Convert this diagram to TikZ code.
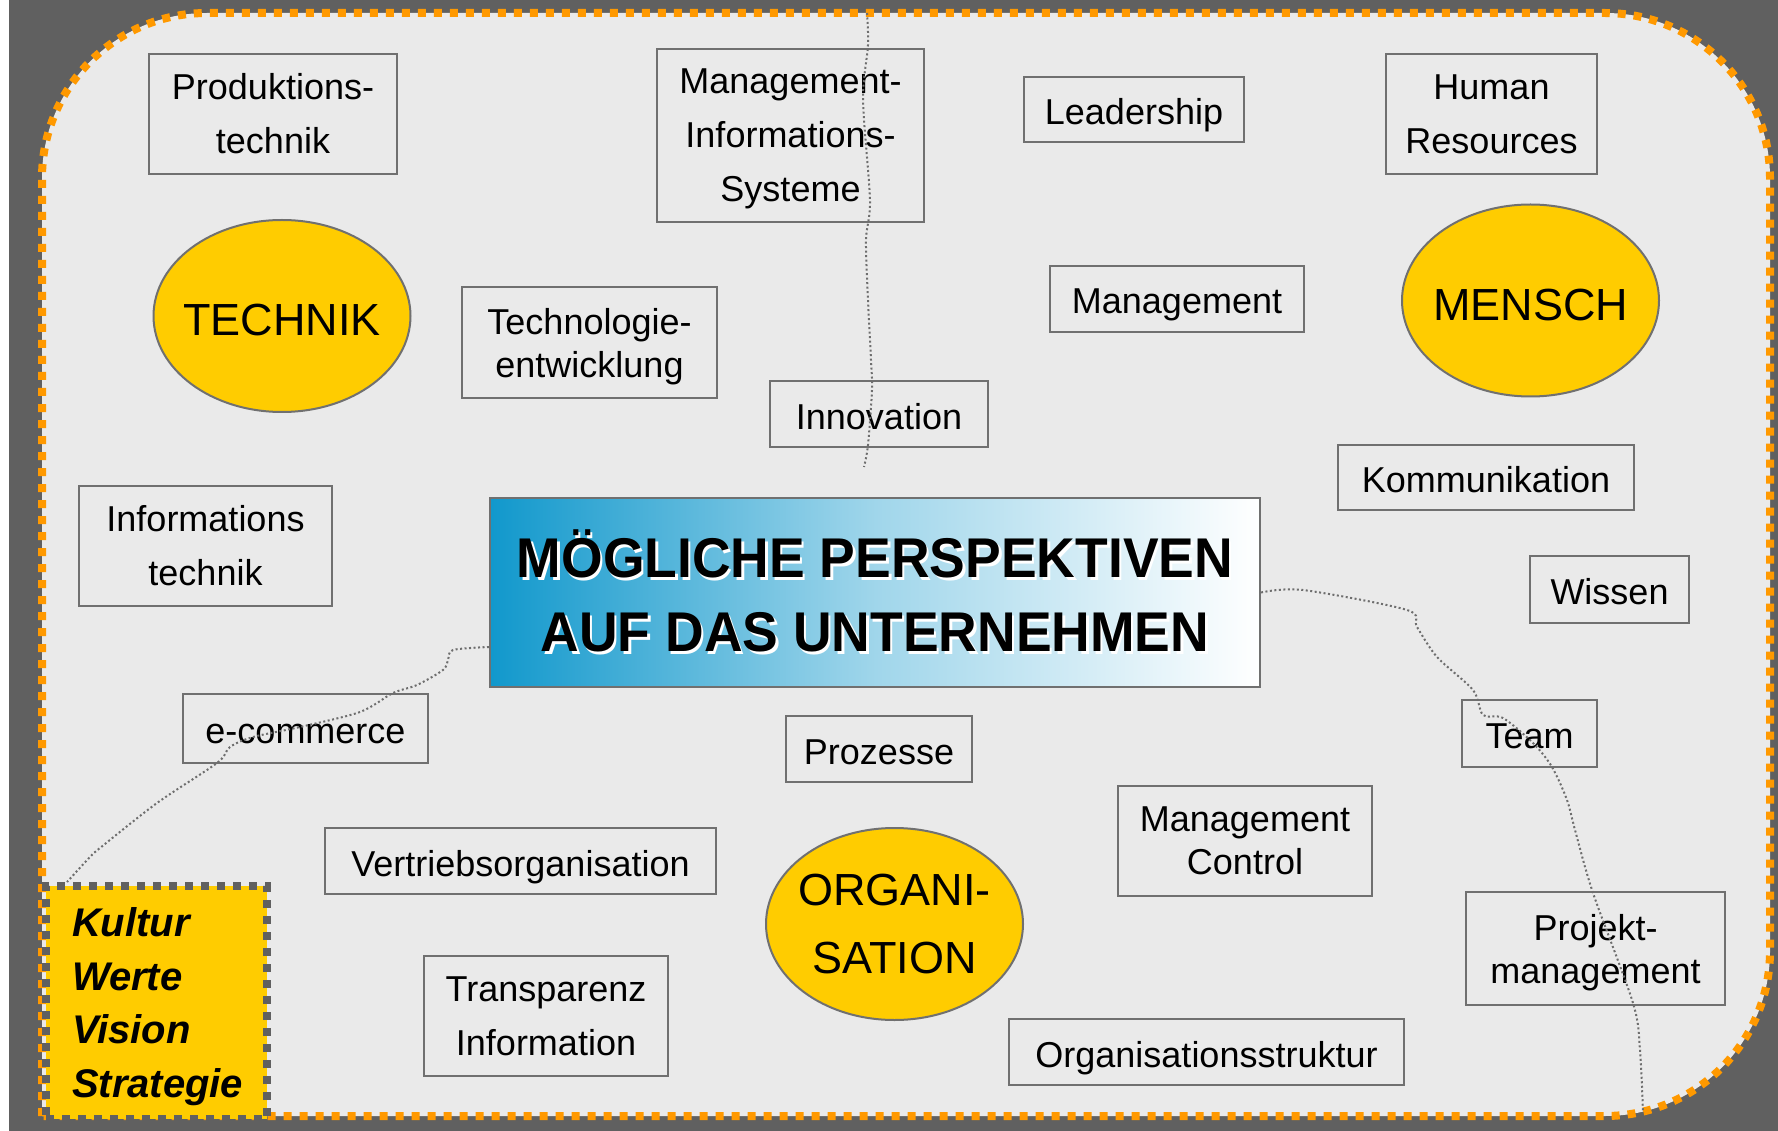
\documentclass[tikz,border=0pt]{standalone}
\usepackage{fontspec}
\setmainfont{Liberation Sans}
\newfontfamily\titlefont[FakeStretch=0.955]{Liberation Sans}
\usetikzlibrary{shapes.geometric}

\definecolor{darkbg}{RGB}{96,96,96}
\definecolor{panelgray}{RGB}{234,234,234}
\definecolor{dashorange}{RGB}{255,153,0}
\definecolor{sunyellow}{RGB}{255,204,0}
\definecolor{boxline}{RGB}{112,112,112}
\definecolor{titleblue}{RGB}{17,152,204}
\definecolor{dotgray}{RGB}{110,110,110}

\newcommand{\shadowed}[1]{\makebox[0pt][l]{\hspace{2.5pt}\raisebox{-2.5pt}{\color{white}#1}}#1}

\tikzset{
  topic/.style={draw=boxline, line width=2pt, align=center, inner sep=0pt,
    font=\fontsize{36}{54}\selectfont},
  topicline/.style={topic, text height=30pt, text depth=0pt},
  topictight/.style={topic, text depth=0pt, font=\fontsize{36}{43}\selectfont},
  pillar/.style={ellipse, draw=boxline, line width=2pt, fill=sunyellow, align=center,
    inner xsep=-30pt, inner ysep=-20pt, minimum width=257pt, minimum height=192pt,
    font=\fontsize{45}{68}\selectfont},
  valuebox/.style={draw=darkbg, fill=sunyellow, line width=8pt, dash pattern=on 8pt off 8pt,
    minimum width=221pt, minimum height=233pt, text width=169pt, inner xsep=24pt,
    inner ysep=0pt, align=left, text height=37pt,
    font=\bfseries\itshape\fontsize{40}{53.5}\selectfont},
  divider/.style={draw=dotgray, line width=2pt, dash pattern=on 2pt off 2.5pt}
}

\begin{document}
\begin{tikzpicture}[x=1pt, y=-1pt]
  \useasboundingbox (0,0) rectangle (1778,1131);
  \fill[white] (0,0) rectangle (1778,1131);
  \fill[darkbg] (9,0) rectangle (1778,1131);
  \filldraw[fill=panelgray, draw=dashorange, line width=8pt, dash pattern=on 8pt off 8pt]
    (42,1116) -- (42,178) arc[start angle=180, end angle=270, radius=165]
    -- (1605,13) arc[start angle=270, end angle=360, radius=165]
    -- (1770,951) arc[start angle=0, end angle=90, radius=165] -- cycle;

  \node (prod) at (273,114) [topic, minimum width=248pt, minimum height=120pt] {Produktions-\\technik};
  \node (mis) at (790.5,135.5) [topic, text depth=0pt, minimum width=267pt, minimum height=173pt] {Management-\\Informations-\\Systeme};
  \node (lead) at (1134,109.5) [topicline, minimum width=220pt, minimum height=65pt] {Leadership};
  \node (hr) at (1491.5,114) [topic, minimum width=211pt, minimum height=120pt] {Human\\Resources};
  \node (techdev) at (589.5,342.5) [topictight, minimum width=255pt, minimum height=111pt] {Technologie-\\entwicklung};
  \node (mgmt) at (1177,299) [topicline, minimum width=254pt, minimum height=66pt] {Management};
  \node (innov) at (879,414) [topicline, minimum width=218pt, minimum height=66pt] {Innovation};
  \node (komm) at (1486,477.5) [topicline, minimum width=296pt, minimum height=65pt] {Kommunikation};
  \node (infotech) at (205.5,546) [topic, minimum width=253pt, minimum height=120pt] {Informations\\technik};
  \node (wissen) at (1609.5,589.5) [topicline, minimum width=159pt, minimum height=67pt] {Wissen};
  \node (ecom) at (305.5,728.5) [topicline, minimum width=245pt, minimum height=69pt] {e-commerce};
  \node (proz) at (879,749) [topicline, minimum width=186pt, minimum height=66pt] {Prozesse};
  \node (team) at (1529.5,733.5) [topicline, minimum width=135pt, minimum height=67pt] {Team};
  \node (mctrl) at (1245,841) [topictight, minimum width=254pt, minimum height=110pt] {Management\\Control};
  \node (vertrieb) at (520.5,861) [topicline, minimum width=391pt, minimum height=66pt] {Vertriebsorganisation};
  \node (projekt) at (1595.5,948.5) [topictight, minimum width=259pt, minimum height=113pt] {Projekt-\\management};
  \node (transp) at (546,1016) [topic, minimum width=244pt, minimum height=120pt] {Transparenz\\Information};
  \node (struktur) at (1206.5,1052) [topicline, minimum width=395pt, minimum height=66pt] {Organisationsstruktur};

  \node (technik) at (282,316) [pillar, text height=40pt] {TECHNIK};
  \node (mensch) at (1530.5,300.5) [pillar, text height=40pt] {MENSCH};
  \node (org) at (894.5,924) [pillar] {ORGANI-\\SATION};

  \node (title) at (875,592.5) [draw=boxline, line width=2pt, left color=titleblue, right color=white,
    middle color=titleblue!40!white, minimum width=770pt, minimum height=189pt, inner sep=0pt,
    align=center, font=\titlefont\bfseries\fontsize{56}{74}\selectfont]
    {\shadowed{MÖGLICHE PERSPEKTIVEN}\\\shadowed{AUF DAS UNTERNEHMEN}};

  \node (werte) at (42,882) [valuebox, anchor=north west] {Kultur\\Werte\\Vision\\Strategie};

  \coordinate (topgap) at (867,13);
  \coordinate (gapend) at (864,467);
  \coordinate (titlejoin) at ([yshift=-54.5pt]title.west);
  \coordinate (boxjoin) at ([xshift=25pt]werte.north west);
  \coordinate (bottomgap) at (1643,1113);

  \draw[divider] plot[smooth, tension=0.5] coordinates {(topgap) (868,45) (863,100) (870,200)
    (866,240) (868,300) (871,360) (872,390) (868,445) (gapend)};
  \draw[divider] plot[smooth, tension=0.5] coordinates {(titlejoin) (453,650) (448,660) (443,670)
    (417,685) (393,693) (360,712) (300,727) (253,737) (230,747) (217,763) (157,803) (100,848)
    (90,857) (boxjoin)};
  \draw[divider] plot[smooth, tension=0.5] coordinates {(title.east) (1303,590) (1407,610)
    (1417,627) (1437,657) (1473,690) (1483,715) (1503,718) (1533,743) (1552,767) (1567,800)
    (1575,830) (1593,893) (1633,1003) (1640,1050) (bottomgap)};
\end{tikzpicture}
\end{document}
